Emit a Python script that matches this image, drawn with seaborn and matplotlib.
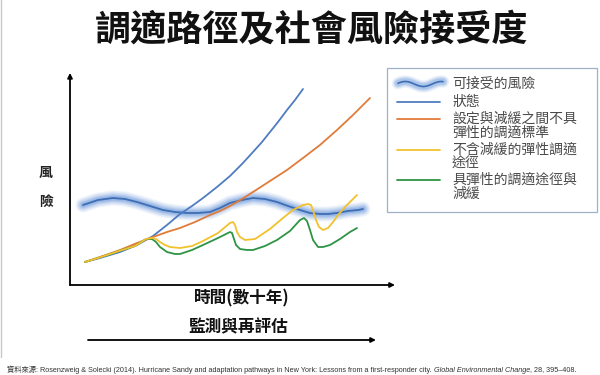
import numpy as np
import pandas as pd
import matplotlib
matplotlib.use("Agg")
import matplotlib.pyplot as plt
import seaborn as sns
from matplotlib.lines import Line2D
from matplotlib.patches import Rectangle

# ---------------- data (time units, risk units) ----------------
risk_time = [13, 28, 43, 55, 67, 80, 93, 105, 117, 128, 140, 150, 160, 172, 183, 195, 207, 218, 230, 240, 250, 258, 267, 278, 288, 293]
risk_level = [80, 85, 87, 86, 83, 79, 75, 73, 72, 72, 73, 77, 82, 85, 87, 86, 83, 79, 75, 72, 71, 71, 72, 74, 75, 76]

state_time = [15, 30, 50, 67, 83, 97, 110, 122, 133, 147, 160, 172, 183, 192, 200, 208, 217, 225, 233]
state_risk = [23, 27, 33, 40, 49, 60, 71, 79, 87, 98, 109, 121, 133, 143, 153, 163, 175, 185, 196]

rigid_time = [15, 30, 50, 67, 83, 97, 110, 125, 140, 150, 160, 172, 183, 200, 217, 233, 250, 267, 283, 300]
rigid_risk = [23, 28, 35, 42, 48, 53, 57, 63, 70, 74, 79, 86, 93, 104, 115, 127, 140, 155, 170, 187]

flex_time = [15, 28, 40, 52, 65, 76, 82, 86, 90, 95, 100, 110, 122, 133, 148, 160, 163, 165, 167, 170, 175, 185, 200, 213, 223, 233, 238, 241, 243, 246, 249, 253, 258, 263, 268, 275, 282, 287]
flex_risk = [23, 27, 31, 35, 39, 46, 47, 46, 43, 40, 38, 37, 39, 44, 52, 62, 63, 60, 53, 48, 45, 46, 56, 67, 75, 80, 81, 80, 75, 65, 58, 55, 57, 63, 70, 78, 85, 90]

resil_time = [15, 28, 40, 52, 65, 76, 82, 86, 90, 97, 105, 110, 122, 133, 148, 160, 162, 164, 166, 170, 177, 183, 195, 207, 220, 230, 234, 237, 240, 243, 248, 253, 260, 270, 280, 287]
resil_risk = [23, 27, 31, 35, 39, 46, 46, 43, 38, 33, 31, 31, 35, 40, 47, 53, 52, 46, 40, 36, 35, 35, 39, 45, 54, 65, 67, 64, 55, 45, 38, 38, 40, 46, 53, 57]

legend_labels = ["可接受的風險", "狀態", "設定與減緩之間不具\n彈性的調適標準", "不含減緩的彈性調適\n途徑", "具彈性的調適途徑與\n減緩"]
title_text = "調適路徑及社會風險接受度"
x_label = "時間(數十年)"
y_label_chars = ["風", "險"]
monitor_text = "監測與再評估"
source_pre = "資料來源: Rosenzweig & Solecki (2014). Hurricane Sandy and adaptation pathways in New York: Lessons from a first-responder city. "
source_journal = "Global Environmental Change"
source_post = ", 28, 395–408."

# ---------------- style ----------------
sns.set_theme(style="white")
plt.rcParams["font.family"] = ["Noto Sans CJK TC", "DejaVu Sans"]

c_band = "#6a98dc"
c_core = "#3d6db3"
c_state = "#4f7cc0"
c_rigid = "#e07b39"
c_flex = "#f2c12e"
c_resil = "#2e9444"

W, H = 600, 375
fig = plt.figure(figsize=(6, 3.75), dpi=100)

def fx(px):
    return px / W

def fy(py):
    return 1 - py / H

ax = fig.add_axes([fx(70), fy(285), (395 - 70) / W, (285 - 75) / H])
ax.set_xlim(0, 325)
ax.set_ylim(0, 210)
for s in ax.spines.values():
    s.set_visible(False)
ax.set_xticks([])
ax.set_yticks([])
ax.patch.set_alpha(0)

# acceptable-risk band (blurred)
band_df = pd.DataFrame({"t": risk_time, "r": risk_level})
for lw, a in [(11, 0.08), (9.5, 0.10), (8, 0.13), (6.5, 0.16), (5, 0.22), (3.5, 0.3)]:
    sns.lineplot(data=band_df, x="t", y="r", ax=ax, sort=False, estimator=None,
                 color=c_band, lw=lw, alpha=a, solid_capstyle="round")
sns.lineplot(data=band_df, x="t", y="r", ax=ax, sort=False, estimator=None,
             color=c_core, lw=1.3)

for t, r, c in [(state_time, state_risk, c_state), (rigid_time, rigid_risk, c_rigid),
                (resil_time, resil_risk, c_resil), (flex_time, flex_risk, c_flex)]:
    sns.lineplot(x=t, y=r, ax=ax, sort=False, estimator=None, color=c, lw=1.3)

ax.set_xlabel("")
ax.set_ylabel("")

# axis arrows
arrow_kw = dict(arrowstyle="-|>", lw=1.3, color="black", mutation_scale=7, shrinkA=0, shrinkB=0)
ax.annotate("", xy=(0, 1.01), xytext=(0, 0), xycoords="axes fraction", arrowprops=arrow_kw)
ax.annotate("", xy=(1, 0), xytext=(0, 0), xycoords="axes fraction", arrowprops=arrow_kw)

# monitor arrow
fig.add_artist(matplotlib.patches.FancyArrowPatch((fx(88), fy(340)), (fx(376), fy(340)),
               transform=fig.transFigure, **arrow_kw))

# texts
fig.text(fx(312), fy(31), title_text, ha="center", va="center", fontsize=26, fontweight="bold", color="#111111")
fig.text(fx(46), fy(173), y_label_chars[0], ha="center", va="center", fontsize=10, fontweight="bold", color="#222222")
fig.text(fx(46), fy(202), y_label_chars[1], ha="center", va="center", fontsize=10, fontweight="bold", color="#222222")
fig.text(fx(242), fy(298), x_label, ha="center", va="center", fontsize=12, fontweight="bold", color="#111111")
fig.text(fx(238), fy(327), monitor_text, ha="center", va="center", fontsize=12, fontweight="bold", color="#111111")

# legend (manual box)
fig.add_artist(Rectangle((fx(387), fy(212)), (597 - 387) / W, (212 - 68) / H, transform=fig.transFigure,
                         facecolor="white", edgecolor="#9fb0c8", lw=0.9))
legend_y = [84, 102, 119, 150, 180]
line_step = 14
handle_colors = [None, c_state, c_rigid, c_flex, c_resil]
for lab, yy, col in zip(legend_labels, legend_y, handle_colors):
    if col is None:
        xs = np.linspace(398, 443, 40)
        ys = yy - 2.5 * np.sin((xs - 398) / 45 * 2 * np.pi * 1.25 + 0.3)
        for lw, a in [(9, 0.10), (7.5, 0.14), (6, 0.2), (4.5, 0.28)]:
            fig.add_artist(Line2D(fx(xs), fy(ys), transform=fig.transFigure, color=c_band, lw=lw, alpha=a,
                                  solid_capstyle="round"))
        fig.add_artist(Line2D(fx(xs), fy(ys), transform=fig.transFigure, color=c_core, lw=1.2))
    else:
        fig.add_artist(Line2D([fx(397), fx(440)], [fy(yy), fy(yy)], transform=fig.transFigure, color=col, lw=1.3))
    for i, part in enumerate(lab.split("\n")):
        fig.text(fx(452), fy(yy + i * line_step), part, ha="left", va="center", fontsize=10, color="#4a4a4a")

# source line
fig.canvas.draw()
r = fig.canvas.get_renderer()
src_fam = ["Liberation Sans", "Noto Sans CJK TC"]
t1 = fig.text(fx(7), fy(370), source_pre, ha="left", va="center", fontsize=5.25, color="#333333", family=src_fam)
bb = t1.get_window_extent(renderer=r)
t2 = fig.text(bb.x1 / W, fy(370), source_journal, ha="left", va="center", fontsize=5.25, color="#333333",
              family=src_fam, style="italic")
bb2 = t2.get_window_extent(renderer=r)
fig.text(bb2.x1 / W, fy(370), source_post, ha="left", va="center", fontsize=5.25, color="#333333", family=src_fam)

# left border line
fig.add_artist(Line2D([fx(1), fx(1)], [fy(357), 1], transform=fig.transFigure, color="#c8c8c8", lw=1))

fig.savefig("out.png", dpi=100)
